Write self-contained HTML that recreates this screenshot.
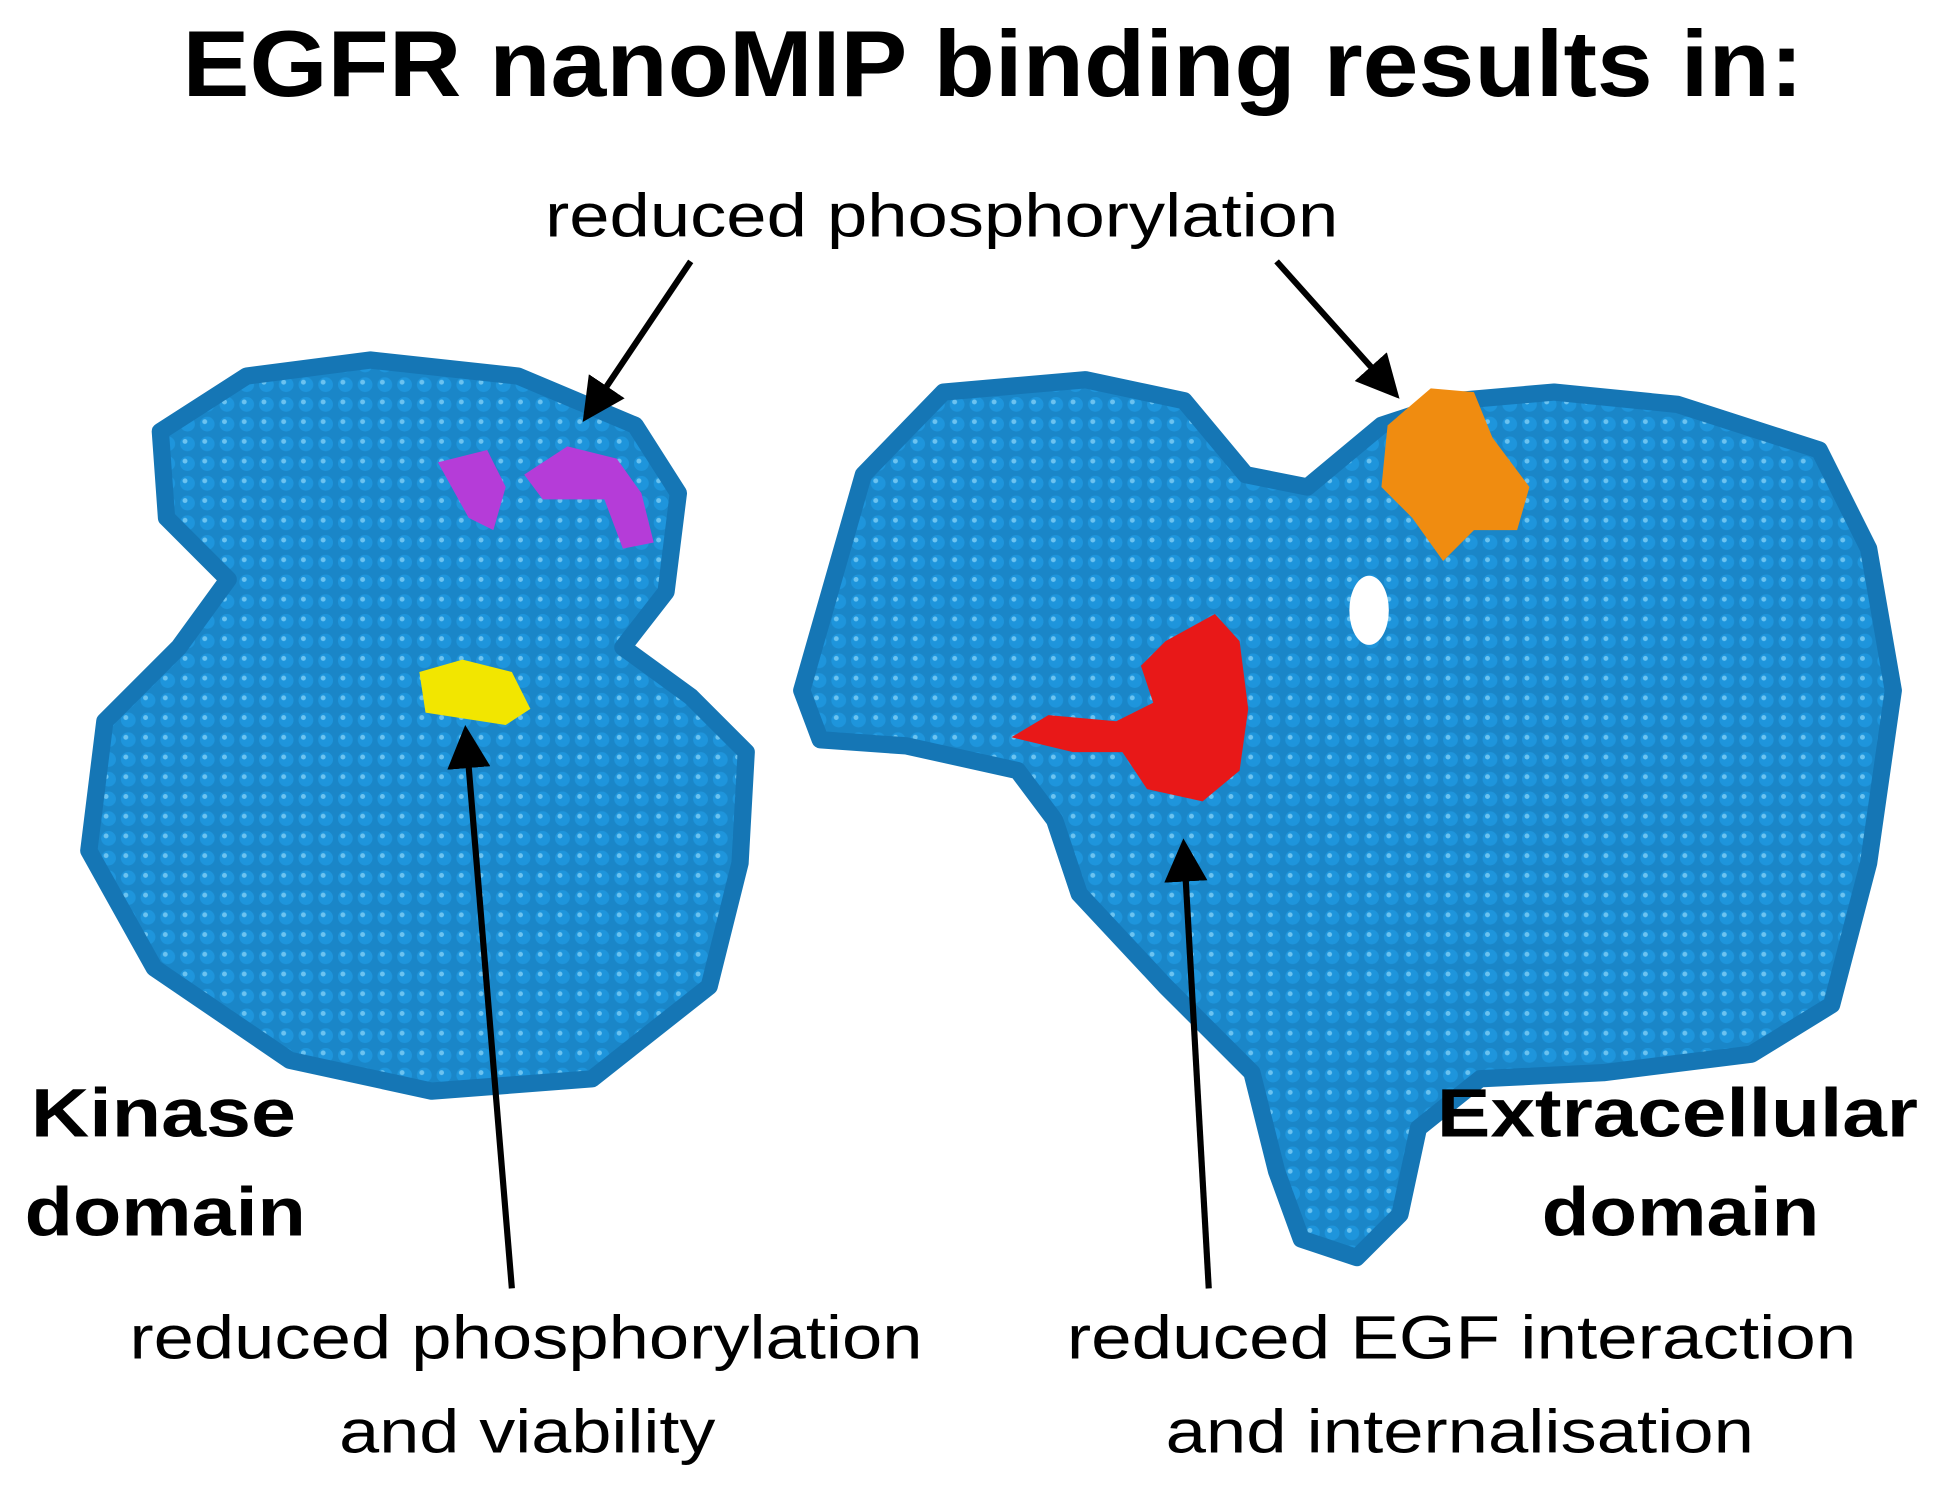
<!DOCTYPE html>
<html><head><meta charset="utf-8"><style>
html,body{margin:0;padding:0;background:#fff;}
svg{display:block;}
</style></head><body>
<svg width="1934" height="1498" viewBox="0 0 1568 1215" preserveAspectRatio="none" xmlns="http://www.w3.org/2000/svg">
<defs>
<pattern id="dots" width="16" height="16" patternUnits="userSpaceOnUse">
<rect width="16" height="16" fill="#1a86c8"/>
<circle cx="8" cy="8" r="6" fill="#1e95dc"/>
<circle cx="6" cy="6" r="2" fill="#6cc3f0"/>
</pattern>
<marker id="ah" markerWidth="7" markerHeight="7" refX="5" refY="3.5" orient="auto" markerUnits="strokeWidth">
<path d="M0,0 L7,3.5 L0,7 z" fill="#000"/>
</marker>
</defs>
<g font-family="Liberation Sans, sans-serif">
<text x="148" y="78" font-weight="bold" font-size="76" textLength="1314" lengthAdjust="spacingAndGlyphs">EGFR nanoMIP binding results in:</text>
<text x="442" y="192" font-size="50" textLength="643" lengthAdjust="spacingAndGlyphs">reduced phosphorylation</text>
</g>

<polygon fill="url(#dots)" stroke="#1576b5" stroke-width="14" stroke-linejoin="round"
points="130,350 200,305 300,292 420,305 515,345 550,400 540,480 505,525 560,565 605,610 600,700 575,800 480,875 350,885 235,860 125,785 72,690 85,585 145,525 185,470 135,420"/>
<polygon fill="url(#dots)" stroke="#1576b5" stroke-width="14" stroke-linejoin="round"
points="650,560 700,385 765,318 880,308 960,325 1010,385 1060,395 1120,345 1180,325 1260,318 1360,328 1475,365 1515,445 1535,560 1515,700 1485,815 1420,855 1300,870 1200,875 1150,915 1135,985 1100,1020 1055,1005 1035,950 1015,870 945,800 875,725 855,665 825,625 735,605 665,600"/>
<ellipse cx="1110" cy="495" rx="16" ry="28" fill="#fff"/>

<path d="M355,375 L395,365 L410,395 L400,430 L380,420 Z" fill="#b53cd8"/>
<path d="M425,385 L460,362 L500,372 L520,400 L530,440 L505,445 L490,405 L440,405 Z" fill="#b53cd8"/>
<path d="M340,545 L375,535 L415,545 L430,575 L410,588 L345,578 Z" fill="#f2e600"/>
<path d="M1125,345 L1160,315 L1195,318 L1210,355 L1240,395 L1230,430 L1195,430 L1170,455 L1145,420 L1120,395 Z" fill="#f08c10"/>
<path d="M945,520 L985,498 L1005,520 L1012,575 L1005,625 L975,650 L930,640 L910,610 L870,610 L820,598 L850,580 L905,585 L935,570 L925,540 Z" fill="#e81818"/>

<line x1="560" y1="212" x2="478" y2="334" stroke="#000" stroke-width="5" marker-end="url(#ah)"/>
<line x1="1035" y1="212" x2="1128" y2="316" stroke="#000" stroke-width="5" marker-end="url(#ah)"/>
<line x1="415" y1="1045" x2="378" y2="598" stroke="#000" stroke-width="5" marker-end="url(#ah)"/>
<line x1="980" y1="1045" x2="960" y2="690" stroke="#000" stroke-width="5" marker-end="url(#ah)"/>

<g font-family="Liberation Sans, sans-serif" font-weight="bold" font-size="56">
<text x="25" y="922" textLength="215" lengthAdjust="spacingAndGlyphs">Kinase</text>
<text x="20" y="1002" textLength="228" lengthAdjust="spacingAndGlyphs">domain</text>
<text x="1165" y="922" textLength="390" lengthAdjust="spacingAndGlyphs">Extracellular</text>
<text x="1250" y="1002" textLength="225" lengthAdjust="spacingAndGlyphs">domain</text>
</g>
<g font-family="Liberation Sans, sans-serif" font-size="50">
<text x="105" y="1102" textLength="643" lengthAdjust="spacingAndGlyphs">reduced phosphorylation</text>
<text x="275" y="1178" textLength="305" lengthAdjust="spacingAndGlyphs">and viability</text>
<text x="865" y="1102" textLength="640" lengthAdjust="spacingAndGlyphs">reduced EGF interaction</text>
<text x="945" y="1178" textLength="477" lengthAdjust="spacingAndGlyphs">and internalisation</text>
</g>
</svg>
</body></html>
